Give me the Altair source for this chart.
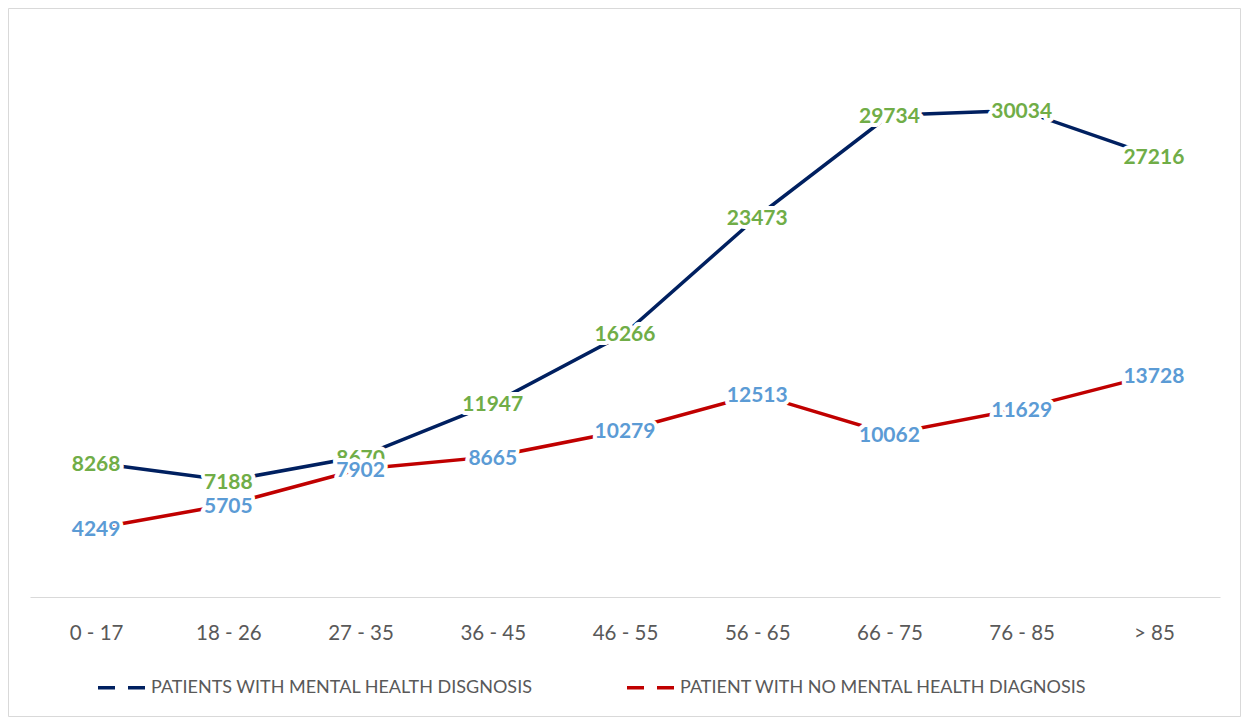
import altair as alt
import pandas as pd

age_groups = ["0 - 17", "18 - 26", "27 - 35", "36 - 45", "46 - 55", "56 - 65", "66 - 75", "76 - 85", "> 85"]
with_mh = [8268, 7188, 8670, 11947, 16266, 23473, 29734, 30034, 27216]
without_mh = [4249, 5705, 7902, 8665, 10279, 12513, 10062, 11629, 13728]
series_names = ["PATIENTS WITH MENTAL HEALTH DISGNOSIS", "PATIENT WITH NO MENTAL HEALTH DIAGNOSIS"]

rows = []
for i, g in enumerate(age_groups):
    rows.append({"age": g, "series": series_names[0], "value": with_mh[i], "order": i})
    rows.append({"age": g, "series": series_names[1], "value": without_mh[i], "order": i})
df = pd.DataFrame(rows)

W, H = 1190, 567
FONT = "Lato"

x = alt.X("age:N", sort=age_groups, title=None,
          scale=alt.Scale(type="point", padding=0.5),
          axis=alt.Axis(domainColor="#d9d9d9", domainWidth=1, ticks=False, grid=False,
                        labelAngle=0, labelFontSize=20.5, labelColor="#595959", labelFont=FONT,
                        labelPadding=26))
y = alt.Y("value:Q", scale=alt.Scale(domain=[0, 35000], nice=False), axis=None)

color = alt.Color("series:N",
                  scale=alt.Scale(domain=series_names, range=["#002060", "#c00000"]),
                  legend=alt.Legend(title=None, orient="none", direction="horizontal",
                                    legendX=66, legendY=632,
                                    symbolType="stroke", symbolSize=2209, symbolStrokeWidth=3.5,
                                    symbolDash=[17, 13], labelFont=FONT, labelFontSize=18,
                                    labelColor="#595959", labelLimit=0, labelOffset=4,
                                    columnPadding=87))

base = alt.Chart(df)

lines = base.mark_line(strokeWidth=3.5).encode(x=x, y=y, color=color, order="order:Q")

def labels(name, col):
    d = base.transform_filter(alt.datum.series == name)
    halo = d.mark_text(fontSize=21, fontWeight="bold", font=FONT, color="white", dy=2,
                       stroke="white", strokeWidth=8, strokeJoin="round").encode(
        x=x, y=y, text="value:Q")
    txt = d.mark_text(fontSize=21, fontWeight="bold", font=FONT, color=col, dy=2).encode(
        x=x, y=y, text="value:Q")
    return halo + txt

border = alt.Chart(pd.DataFrame({"a": [0]})).mark_rect(
    fill=None, stroke="#d9d9d9", strokeWidth=1).encode(
    x=alt.value(-21.5), x2=alt.value(W + 20.5), y=alt.value(-21.5), y2=alt.value(H + 119.5))

chart = alt.layer(
    border, lines,
    labels(series_names[0], "#70ad47"),
    labels(series_names[1], "#5b9bd5"),
).properties(
    width=W, height=H,
    autosize=alt.AutoSizeParams(type="none"),
    padding={"left": 22, "top": 22, "right": 21, "bottom": 120},
    background="white",
).configure_view(strokeWidth=0, stroke="transparent")

chart.save("out.html", embed_options={"renderer": "svg", "actions": False})
